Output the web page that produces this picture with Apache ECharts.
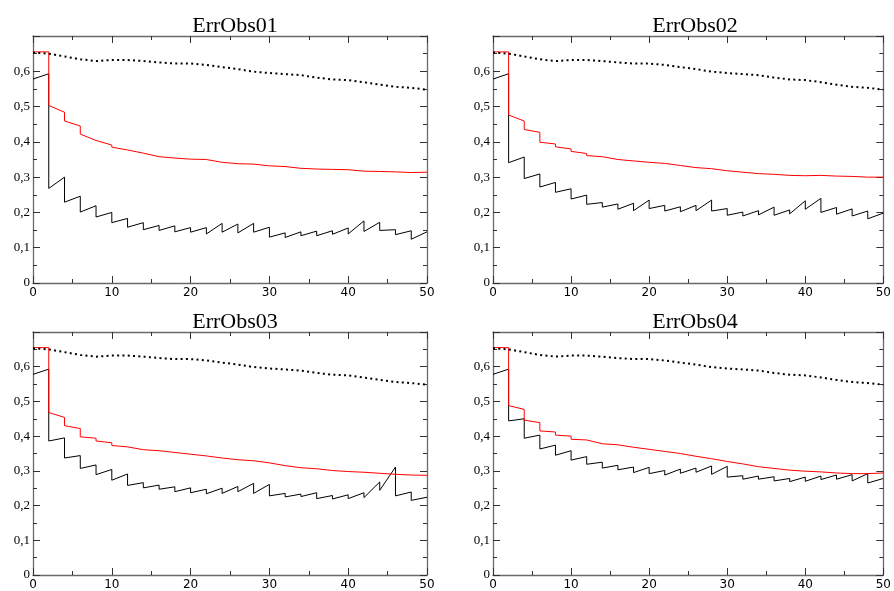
<!DOCTYPE html>
<html><head><meta charset="utf-8">
<script src="https://cdn.jsdelivr.net/npm/echarts@6.0.0/dist/echarts.min.js"></script>
<style>html,body{margin:0;padding:0;background:#fff}#c{width:894px;height:591px}</style>
</head><body><div id="c"></div>
<script>
// ---- data ----
const titles = ['ErrObs01', 'ErrObs02', 'ErrObs03', 'ErrObs04'];
const xSteps = [0,2,4,6,8,10,12,14,16,18,20,22,24,26,28,30,32,34,36,38,40,42,44,46,48,50];
const xTicks = [0, 10, 20, 30, 40, 50];
const yTicks = [0, 0.1, 0.2, 0.3, 0.4, 0.5, 0.6];

// dotted reference curve (same in all panels)
const dottedRef = [0.653,0.650,0.642,0.634,0.629,0.632,0.632,0.629,0.625,0.622,0.622,0.618,0.612,0.606,0.599,0.595,0.592,0.589,0.582,0.577,0.575,0.569,0.562,0.556,0.553,0.548];

// black solid: value reached at x (hi) and value right after the drop at x (lo)
const black1Hi = [0.578,0.593,0.300,0.246,0.219,0.200,0.183,0.171,0.163,0.162,0.157,0.157,0.169,0.167,0.169,0.158,0.142,0.145,0.147,0.148,0.156,0.176,0.172,0.151,0.148,0.145];
const black1Lo = [0.578,0.268,0.229,0.201,0.187,0.171,0.158,0.151,0.149,0.145,0.144,0.139,0.144,0.142,0.144,0.130,0.129,0.134,0.134,0.138,0.139,0.146,0.149,0.137,0.124,0.145];
const red1Hi   = [0.655,0.655,0.484,0.445,0.404,0.391,0.377,0.368,0.358,0.354,0.351,0.350,0.342,0.338,0.337,0.332,0.330,0.325,0.323,0.322,0.321,0.317,0.316,0.315,0.313,0.314];
const red1Lo   = [0.655,0.503,0.459,0.422,0.404,0.385,0.377,0.363,0.358,0.354,0.351,0.347,0.342,0.338,0.337,0.332,0.330,0.325,0.323,0.322,0.321,0.317,0.316,0.315,0.313,0.314];

const black2Hi = [0.578,0.593,0.357,0.309,0.285,0.267,0.249,0.228,0.224,0.226,0.235,0.220,0.216,0.220,0.235,0.211,0.201,0.205,0.215,0.207,0.233,0.240,0.214,0.210,0.204,0.198];
const black2Lo = [0.578,0.341,0.296,0.272,0.257,0.238,0.223,0.215,0.209,0.205,0.211,0.204,0.202,0.205,0.204,0.192,0.190,0.193,0.192,0.196,0.209,0.200,0.195,0.190,0.182,0.198];
const red2Hi   = [0.655,0.655,0.459,0.427,0.394,0.380,0.367,0.358,0.350,0.346,0.342,0.339,0.333,0.327,0.324,0.318,0.314,0.310,0.308,0.305,0.304,0.305,0.303,0.302,0.300,0.300];
const red2Lo   = [0.655,0.476,0.435,0.399,0.386,0.373,0.361,0.354,0.350,0.346,0.342,0.339,0.333,0.327,0.324,0.318,0.314,0.310,0.308,0.305,0.304,0.305,0.303,0.302,0.300,0.300];

const black3Hi = [0.578,0.593,0.395,0.344,0.317,0.304,0.291,0.266,0.259,0.254,0.251,0.247,0.250,0.255,0.264,0.261,0.235,0.233,0.237,0.229,0.231,0.237,0.268,0.311,0.239,0.224];
const black3Lo = [0.578,0.386,0.337,0.307,0.289,0.273,0.258,0.251,0.247,0.240,0.237,0.234,0.235,0.240,0.235,0.228,0.225,0.226,0.220,0.219,0.220,0.223,0.244,0.228,0.215,0.224];
const red3Hi   = [0.655,0.655,0.454,0.422,0.394,0.381,0.369,0.361,0.358,0.353,0.348,0.343,0.337,0.332,0.329,0.323,0.315,0.309,0.306,0.301,0.298,0.296,0.293,0.290,0.288,0.287];
const red3Lo   = [0.655,0.468,0.430,0.398,0.386,0.373,0.365,0.361,0.358,0.353,0.348,0.343,0.337,0.332,0.329,0.323,0.315,0.309,0.306,0.301,0.298,0.296,0.293,0.290,0.288,0.287];

const black4Hi = [0.578,0.593,0.450,0.403,0.374,0.358,0.341,0.325,0.316,0.311,0.310,0.301,0.305,0.308,0.314,0.313,0.286,0.285,0.283,0.278,0.282,0.285,0.288,0.289,0.292,0.278];
const black4Lo = [0.578,0.444,0.394,0.363,0.345,0.331,0.319,0.308,0.303,0.295,0.292,0.288,0.293,0.296,0.290,0.282,0.276,0.276,0.271,0.269,0.270,0.275,0.276,0.271,0.265,0.278];
const red4Hi   = [0.655,0.655,0.477,0.439,0.412,0.400,0.389,0.378,0.375,0.368,0.362,0.356,0.350,0.342,0.335,0.327,0.320,0.312,0.307,0.302,0.299,0.297,0.294,0.292,0.292,0.294];
const red4Lo   = [0.655,0.488,0.446,0.415,0.403,0.391,0.384,0.378,0.375,0.368,0.362,0.356,0.350,0.342,0.335,0.327,0.320,0.312,0.307,0.302,0.299,0.297,0.294,0.292,0.292,0.294];

const panelBlackHi = [black1Hi, black2Hi, black3Hi, black4Hi];
const panelBlackLo = [black1Lo, black2Lo, black3Lo, black4Lo];
const panelRedHi = [red1Hi, red2Hi, red3Hi, red4Hi];
const panelRedLo = [red1Lo, red2Lo, red3Lo, red4Lo];

// ---- build ----
function stepPairs(hi, lo) {
  const out = [];
  xSteps.forEach((x, i) => {
    out.push([x, hi[i]]);
    if (lo[i] !== hi[i]) out.push([x, lo[i]]);
  });
  return out;
}
function plain(vals) { return xSteps.map((x, i) => [x, vals[i]]); }

const grids = [
  {left: 33, top: 36, width: 394, height: 247},
  {left: 493, top: 36, width: 394, height: 247},
  {left: 33, top: 332, width: 394, height: 246},
  {left: 493, top: 332, width: 394, height: 246}
];
const AX = '#6a6a6a', TK = '#333';
const xAxis = [], yAxis = [], series = [], title = [];
grids.forEach((g, i) => {
  title.push({text: titles[i], left: g.left + g.width / 2, top: g.top - 26, textAlign: 'center',
    textStyle: {fontFamily: 'Liberation Serif', fontSize: 22, fontWeight: 'normal', color: '#000'}});
  const base = {type: 'value', gridIndex: i, splitLine: {show: false},
    axisLine: {show: true, onZero: false, lineStyle: {color: AX, width: 1.3}},
    axisTick: {inside: true, length: 7, lineStyle: {color: TK}},
    minorTick: {show: true, splitNumber: 2, length: 4, lineStyle: {color: TK}}};
  xAxis.push(Object.assign({}, base, {position: 'bottom', min: xTicks[0], max: xTicks[xTicks.length - 1], interval: 10,
    axisLabel: {fontFamily: 'DejaVu Sans', fontSize: 12, color: '#000', margin: 4}}));
  xAxis.push(Object.assign({}, base, {position: 'top', min: 0, max: 50, interval: 10, axisLabel: {show: false}}));
  yAxis.push(Object.assign({}, base, {position: 'left', min: 0, max: 0.7, interval: 0.1,
    axisLabel: {fontFamily: 'Liberation Serif', fontSize: 13, color: '#000', margin: 3, showMaxLabel: false,
      formatter: v => { const r = Math.round(v * 10) / 10; return yTicks.indexOf(r) < 0 ? '' : String(r).replace('.', ','); }}}));
  yAxis.push(Object.assign({}, base, {position: 'right', min: 0, max: 0.7, interval: 0.1, axisLabel: {show: false}}));
  const xi = i * 2, yi = i * 2;
  const common = {type: 'line', xAxisIndex: xi, yAxisIndex: yi, showSymbol: false, symbol: 'none', silent: true, animation: false};
  series.push(Object.assign({}, common, {data: stepPairs(panelBlackHi[i], panelBlackLo[i]), lineStyle: {color: '#000', width: 1}}));
  series.push(Object.assign({}, common, {data: stepPairs(panelRedHi[i], panelRedLo[i]), lineStyle: {color: '#ff0000', width: 1}}));
  series.push(Object.assign({}, common, {data: plain(dottedRef), lineStyle: {color: '#000', width: 2, type: [2, 3.3]}}));
});

const chart = echarts.init(document.getElementById('c'), null, {renderer: 'canvas'});
chart.setOption({backgroundColor: '#fff', animation: false, title, grid: grids, xAxis, yAxis, series});
</script>
</body></html>
